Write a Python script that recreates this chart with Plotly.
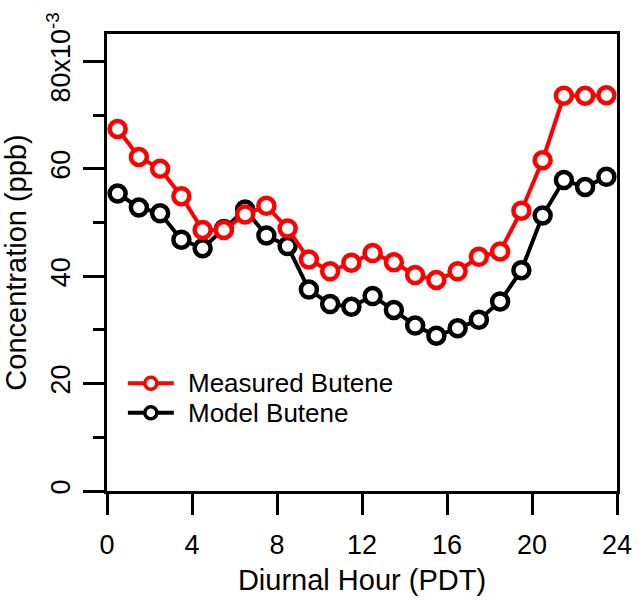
import plotly.graph_objects as go

# Diurnal hour bins (hour midpoints, PDT)
hours = [0.5, 1.5, 2.5, 3.5, 4.5, 5.5, 6.5, 7.5, 8.5, 9.5, 10.5, 11.5,
         12.5, 13.5, 14.5, 15.5, 16.5, 17.5, 18.5, 19.5, 20.5, 21.5, 22.5, 23.5]

# Butene concentration, units of 1e-3 ppb
measured_butene = [67.4, 62.2, 60.0, 54.9, 48.6, 48.6, 51.5, 53.1, 48.9, 43.1, 40.9, 42.5,
                   44.3, 42.6, 40.2, 39.3, 40.9, 43.6, 44.6, 52.2, 61.6, 73.6, 73.6, 73.7]
model_butene = [55.4, 52.8, 51.7, 46.8, 45.2, 48.8, 52.4, 47.6, 45.6, 37.5, 34.8, 34.3,
                36.3, 33.7, 30.8, 28.9, 30.3, 31.9, 35.3, 41.1, 51.3, 57.9, 56.6, 58.5]

series_names = ["Measured Butene", "Model Butene"]
series_colors = ["#ff0000", "black"]

x_ticks = [0, 4, 8, 12, 16, 20, 24]
y_ticks = [0, 20, 40, 60, 80]
y_ticktext = ["0", "20", "40", "60", "80x10<sup>-3</sup>"]

FONT = "Liberation Sans, Arial, sans-serif"

fig = go.Figure()

# model drawn first so the measured series sits on top
for name, yvals, color in [(series_names[1], model_butene, series_colors[1]),
                           (series_names[0], measured_butene, series_colors[0])]:
    fig.add_trace(go.Scatter(
        x=hours, y=yvals, name=name, mode="lines+markers", showlegend=False,
        line=dict(color=color, width=4),
        marker=dict(symbol="circle", size=16, color="white",
                    line=dict(color=color, width=4.5)),
    ))

# legend block in the lower-left of the plot area (paper coordinates)
legend_x0, legend_x1, legend_xm, legend_text_x = 0.041, 0.131, 0.086, 0.154
legend_rows_y = [0.236, 0.171]
shapes = []
annotations = []
for name, color, ly in zip(series_names, series_colors, legend_rows_y):
    shapes.append(dict(type="line", xref="paper", yref="paper",
                       x0=legend_x0, x1=legend_x1, y0=ly, y1=ly,
                       line=dict(color=color, width=4)))
    shapes.append(dict(type="circle", xref="paper", yref="paper",
                       xsizemode="pixel", ysizemode="pixel",
                       xanchor=legend_xm, yanchor=ly,
                       x0=-6, x1=6, y0=-6, y1=6,
                       fillcolor="white", line=dict(color=color, width=3.5)))
    annotations.append(dict(text=name, xref="paper", yref="paper",
                            x=legend_text_x, y=ly, xanchor="left", yanchor="middle",
                            showarrow=False,
                            font=dict(size=26, family=FONT, color="black")))

fig.update_layout(
    width=644, height=605,
    margin=dict(l=107, r=25, t=29, b=114),
    paper_bgcolor="white", plot_bgcolor="white",
    font=dict(family=FONT, color="black"),
    showlegend=False,
    shapes=shapes,
    annotations=annotations,
)

fig.update_xaxes(
    range=[0, 24], tickvals=x_ticks,
    showgrid=False, zeroline=False,
    showline=True, linecolor="black", linewidth=3, mirror=True,
    ticks="outside", ticklen=21, tickwidth=3, tickcolor="black",
    ticklabelstandoff=7,
    tickfont=dict(size=27, family=FONT, color="black"),
    title=dict(text="Diurnal Hour (PDT)", font=dict(size=29, family=FONT, color="black"),
               standoff=11),
)
fig.update_yaxes(
    range=[0, 85.1], tickvals=y_ticks, ticktext=y_ticktext,
    tickangle=-90,
    showgrid=False, zeroline=False,
    showline=True, linecolor="black", linewidth=3, mirror=True,
    ticks="outside", ticklen=21, tickwidth=3, tickcolor="black",
    minor=dict(dtick=10, tick0=0, ticks="outside", ticklen=11, tickwidth=3,
               tickcolor="black", showgrid=False),
    ticklabelstandoff=2,
    tickfont=dict(size=27, family=FONT, color="black"),
    title=dict(text="Concentration (ppb)", font=dict(size=29, family=FONT, color="black"),
               standoff=8),
)

fig.write_html("out.html")
